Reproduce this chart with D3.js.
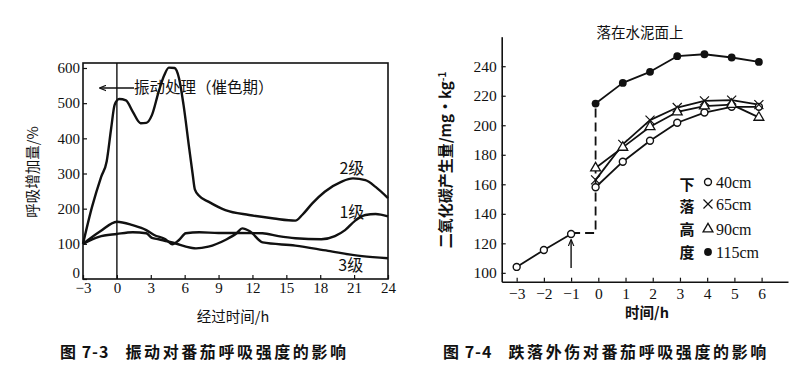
<!DOCTYPE html>
<html>
<head>
<meta charset="utf-8">
<script src="https://cdn.jsdelivr.net/npm/d3@7"></script>
<style>
  body { margin: 0; background: #fff; }
  svg { display: block; }
  .num { font-family: "Liberation Serif", "DejaVu Serif", serif; }
  .cjk { font-family: "Noto Sans CJK SC", "Noto Sans", sans-serif; }
</style>
</head>
<body>
<div id="graphContainer"></div>
<script>
"use strict";

// ---- Figure 7-3 data (vibration) ----
const leftXTicks = [-3, 0, 3, 6, 9, 12, 15, 18, 21, 24];
const leftYTicks = [0, 100, 200, 300, 400, 500, 600];
const grade2 = [[-3,100],[-2.2,205],[-1.4,290],[-0.9,335],[-0.5,430],[-0.2,495],[0.2,512],[0.8,508],[1.4,476],
  [2.1,443],[2.6,444],[3.1,466],[3.7,533],[4.2,580],[4.6,601],[5.1,600],[5.5,571],[5.9,495],[6.4,372],[6.7,300],
  [6.9,255],[7.3,236],[8.1,220],[9.6,196],[11.7,182],[13.9,172],[15.8,166],[16.4,182],[17.3,215],[18.4,248],
  [19.9,277],[20.9,286],[22,281],[22.9,262],[24,230]];
const grade1 = [[-3,100],[-1.5,135],[0,163],[1.4,153],[2.6,139],[3.3,125],[4.3,113],[4.9,99],[5.5,111],[6.1,130],
  [7.3,133],[9,131],[10.5,131],[12.9,130],[14.3,122],[15.8,116],[18.1,113],[19.3,122],[20.2,139],[21.1,166],
  [22,182],[22.9,185],[24,178]];
const grade3 = [[-3,100],[-1.6,120],[0,128],[1.4,133],[2.6,130],[3.1,117],[3.7,113],[4.6,106],[5.2,101],[6.1,92],
  [7,87],[8.1,92],[9.6,111],[10.6,130],[11.1,144],[11.8,135],[12.9,104],[15.8,95],[18.7,80],[21.7,65],[24,59]];
const leftLabels = [{ name: "2级", x: 19.7, y: 315 }, { name: "1级", x: 19.7, y: 188 }, { name: "3级", x: 19.6, y: 40 }];

// ---- Figure 7-4 data (drop injury) ----
const rightXTicks = [-3, -2, -1, 0, 1, 2, 3, 4, 5, 6];
const rightYTicks = [100, 120, 140, 160, 180, 200, 220, 240];
const preDrop = [[-3,104],[-2,115.5],[-1,126.3]];
const afterX = [-0.1, 0.9, 1.9, 2.9, 3.9, 4.9, 5.9];
const h40 = [158, 175.3, 189.5, 201.7, 208.6, 212.5, 212.5];
const h65 = [163, 187, 203.5, 212, 216.5, 217, 214];
const h90 = [171, 185, 199, 209, 213, 214, 205.3];
const h115 = [214.7, 228.7, 236.2, 246.8, 248.1, 245.9, 242.9];
const dropLink = [[-1,127],[-0.1,127],[-0.1,214.7]];
const legendNames = ["40cm", "65cm", "90cm", "115cm"];

const svg = d3.select("#graphContainer").append("svg")
    .attr("width", 800).attr("height", 372);

// arrow head, tip at the end of the line
svg.append("defs").append("marker")
    .attr("id", "arrowHead").attr("viewBox", "0 0 10 10")
    .attr("refX", 9).attr("refY", 5).attr("markerWidth", 7).attr("markerHeight", 7)
    .attr("markerUnits", "userSpaceOnUse")
    .attr("orient", "auto")
    .append("path").attr("d", "M0,1 L10,5 L0,9").attr("fill", "none").attr("stroke", "#111").attr("stroke-width", 1.6);

// caption: figure number tight, title spaced out
function AddCaption(x, num, title) {
    const t = svg.append("text").attr("class", "cjk").attr("font-size", 16).attr("font-weight", "bold")
        .attr("fill", "#111").attr("x", x).attr("y", 352).attr("dy", "0.35em");
    t.append("tspan").attr("letter-spacing", 1).text("图 " + num);
    t.append("tspan").attr("dx", 16).attr("letter-spacing", 2.6).text(title);
}

// ================= Left chart =================
const lx = d3.scaleLinear().domain([-3, 24]).range([83, 388]);
const ly = d3.scaleLinear().domain([0, 600]).range([279, 68]);

const left = svg.append("g");

// frame
left.append("rect")
    .attr("x", lx(-3)).attr("y", 63)
    .attr("width", lx(24) - lx(-3)).attr("height", ly(0) - 63)
    .attr("fill", "none").attr("stroke", "#111").attr("stroke-width", 1.6);

left.append("g")
    .attr("transform", `translate(0,${ly(0)})`)
    .call(d3.axisBottom(lx).tickValues(leftXTicks).tickSizeInner(-4).tickSizeOuter(0).tickPadding(3)
        .tickFormat(d => d < 0 ? "\u2212" + Math.abs(d) : d))
    .call(g => g.select(".domain").remove())
    .call(g => g.selectAll(".tick line").attr("stroke", "#111").attr("stroke-width", 1.2))
    .call(g => g.selectAll("text").attr("class", "num").attr("font-size", 15).attr("fill", "#111"));

left.append("g")
    .attr("transform", `translate(${lx(-3)},0)`)
    .call(d3.axisLeft(ly).tickValues(leftYTicks).tickSizeInner(-4).tickSizeOuter(0).tickPadding(3))
    .call(g => g.select(".domain").remove())
    .call(g => g.selectAll(".tick line").attr("stroke", "#111").attr("stroke-width", 1.2))
    .call(g => g.selectAll("text").attr("class", "num").attr("font-size", 15).attr("fill", "#111"))
    .call(g => g.selectAll(".tick text").filter(d => d === 0).attr("y", -6));

// vertical line at treatment time
left.append("line")
    .attr("x1", lx(0)).attr("x2", lx(0)).attr("y1", 63).attr("y2", ly(0))
    .attr("stroke", "#111").attr("stroke-width", 1.4);

const lline = d3.line().curve(d3.curveMonotoneX).x(d => lx(d[0])).y(d => ly(d[1]));
[grade2, grade1, grade3].forEach(s => {
    left.append("path").datum(s)
        .attr("fill", "none").attr("stroke", "#111").attr("stroke-width", 2.4)
        .attr("stroke-linejoin", "round").attr("d", lline);
});

left.selectAll(".gradeLabel").data(leftLabels).join("text")
    .attr("class", "cjk").attr("font-size", 16).attr("fill", "#111")
    .attr("x", d => lx(d.x)).attr("y", d => ly(d.y)).attr("dy", "0.35em")
    .text(d => d.name);

// annotation arrow
left.append("line")
    .attr("x1", 134).attr("x2", 100).attr("y1", 88).attr("y2", 88)
    .attr("stroke", "#111").attr("stroke-width", 1.3).attr("marker-end", "url(#arrowHead)");
left.append("text").attr("class", "cjk").attr("font-size", 15.5).attr("fill", "#111")
    .attr("x", 134).attr("y", 88).attr("dy", "0.35em").text("振动处理（催色期）");

left.append("text").attr("class", "cjk").attr("font-size", 14.5).attr("fill", "#111")
    .attr("transform", "translate(33,172) rotate(-90)").attr("text-anchor", "middle").attr("dy", "0.35em")
    .text("呼吸增加量/%");
left.append("text").attr("class", "cjk").attr("font-size", 14.5).attr("fill", "#111")
    .attr("x", 233).attr("y", 317).attr("text-anchor", "middle").attr("dy", "0.35em")
    .text("经过时间/h");
AddCaption(60, "7-3", "振动对番茄呼吸强度的影响");

// ================= Right chart =================
const rx = d3.scaleLinear().domain([-3.55, 6.97]).range([501.7, 788]);
const ry = d3.scaleLinear().domain([94, 260]).range([281.7, 36.7]);
const right = svg.append("g");

right.append("g")
    .attr("transform", `translate(0,${ry(94)})`)
    .call(d3.axisBottom(rx).tickValues(rightXTicks).tickSizeInner(-4).tickSizeOuter(0).tickPadding(6)
        .tickFormat(d => d < 0 ? "\u2212" + Math.abs(d) : d))
    .call(g => g.select(".domain").attr("stroke", "#111").attr("stroke-width", 1.6))
    .call(g => g.selectAll(".tick line").attr("stroke", "#111").attr("stroke-width", 1.2))
    .call(g => g.selectAll("text").attr("class", "num").attr("font-size", 15.5).attr("fill", "#111"));

right.append("g")
    .attr("transform", `translate(${rx(-3.55)},0)`)
    .call(d3.axisLeft(ry).tickValues(rightYTicks).tickSizeInner(-4).tickSizeOuter(0).tickPadding(5))
    .call(g => g.select(".domain").attr("stroke", "#111").attr("stroke-width", 1.6))
    .call(g => g.selectAll(".tick line").attr("stroke", "#111").attr("stroke-width", 1.2))
    .call(g => g.selectAll("text").attr("class", "num").attr("font-size", 15.5).attr("fill", "#111"));

const rline = d3.line().x(d => rx(d[0])).y(d => ry(d[1]));

right.append("path").datum(dropLink)
    .attr("fill", "none").attr("stroke", "#111").attr("stroke-width", 1.8)
    .attr("stroke-dasharray", "9,5").attr("d", rline);

const series = [h40, h65, h90, h115].map(vals => vals.map((v, i) => [afterX[i], v]));
[preDrop].concat(series).forEach(s => {
    right.append("path").datum(s)
        .attr("fill", "none").attr("stroke", "#111").attr("stroke-width", 1.8)
        .attr("stroke-linejoin", "round").attr("d", rline);
});

const kinds = ["open", "cross", "tri", "filled"];

// draw one marker symbol of the given kind into a path selection
function styleMark(p, kind) {
    if (kind === "open") p.attr("d", d3.symbol().type(d3.symbolCircle).size(38)())
        .attr("fill", "#fff").attr("stroke", "#111").attr("stroke-width", 1.4);
    if (kind === "filled") p.attr("d", d3.symbol().type(d3.symbolCircle).size(48)()).attr("fill", "#111");
    if (kind === "tri") p.attr("d", d3.symbol().type(d3.symbolTriangle).size(42)())
        .attr("fill", "#fff").attr("stroke", "#111").attr("stroke-width", 1.3);
    if (kind === "cross") p.attr("d", d3.symbol().type(d3.symbolX).size(55)())
        .attr("fill", "none").attr("stroke", "#111").attr("stroke-width", 1.2);
}

function drawMarks(g, pts, kind) {
    g.selectAll(null).data(pts).join("path")
        .attr("transform", d => `translate(${rx(d[0])},${ry(d[1])})`)
        .call(p => styleMark(p, kind));
}
drawMarks(right.append("g"), preDrop, "open");
series.forEach((s, i) => drawMarks(right.append("g"), s, kinds[i]));

// arrow at drop time
right.append("line")
    .attr("x1", rx(-1)).attr("x2", rx(-1)).attr("y1", 268).attr("y2", 240)
    .attr("stroke", "#111").attr("stroke-width", 1.4).attr("marker-end", "url(#arrowHead)");

// legend
const legendY = [182, 204, 229, 252];
["下", "落", "高", "度"].forEach((c, i) => {
    right.append("text").attr("class", "cjk").attr("font-size", 15).attr("font-weight", "bold").attr("fill", "#111")
        .attr("x", 687).attr("y", [185, 207, 230, 253][i]).attr("text-anchor", "middle").attr("dy", "0.35em").text(c);
});
legendNames.forEach((n, i) => {
    const g = right.append("g").attr("transform", `translate(708,${legendY[i]})`);
    styleMark(g.append("path"), kinds[i]);
    g.append("text").attr("class", "num").attr("font-size", 16).attr("fill", "#111")
        .attr("x", 8).attr("dy", "0.35em").text(n);
});

right.append("text").attr("class", "cjk").attr("font-size", 14.5).attr("fill", "#111")
    .attr("x", 640).attr("y", 33).attr("text-anchor", "middle").attr("dy", "0.35em").text("落在水泥面上");

right.append("text").attr("class", "cjk").attr("font-size", 15).attr("font-weight", "bold").attr("fill", "#111")
    .attr("transform", "translate(446,160) rotate(-90)").attr("text-anchor", "middle").attr("dy", "0.35em")
    .call(t => {
        t.append("tspan").text("二氧化碳产生量/mg·kg");
        t.append("tspan").attr("dy", "-0.5em").attr("font-size", 10).text("-1");
    });

right.append("text").attr("class", "cjk").attr("font-size", 14.5).attr("font-weight", "bold").attr("fill", "#111")
    .attr("x", 647).attr("y", 313).attr("text-anchor", "middle").attr("dy", "0.35em").text("时间/h");
AddCaption(443, "7-4", "跌落外伤对番茄呼吸强度的影响");
</script>
</body>
</html>
